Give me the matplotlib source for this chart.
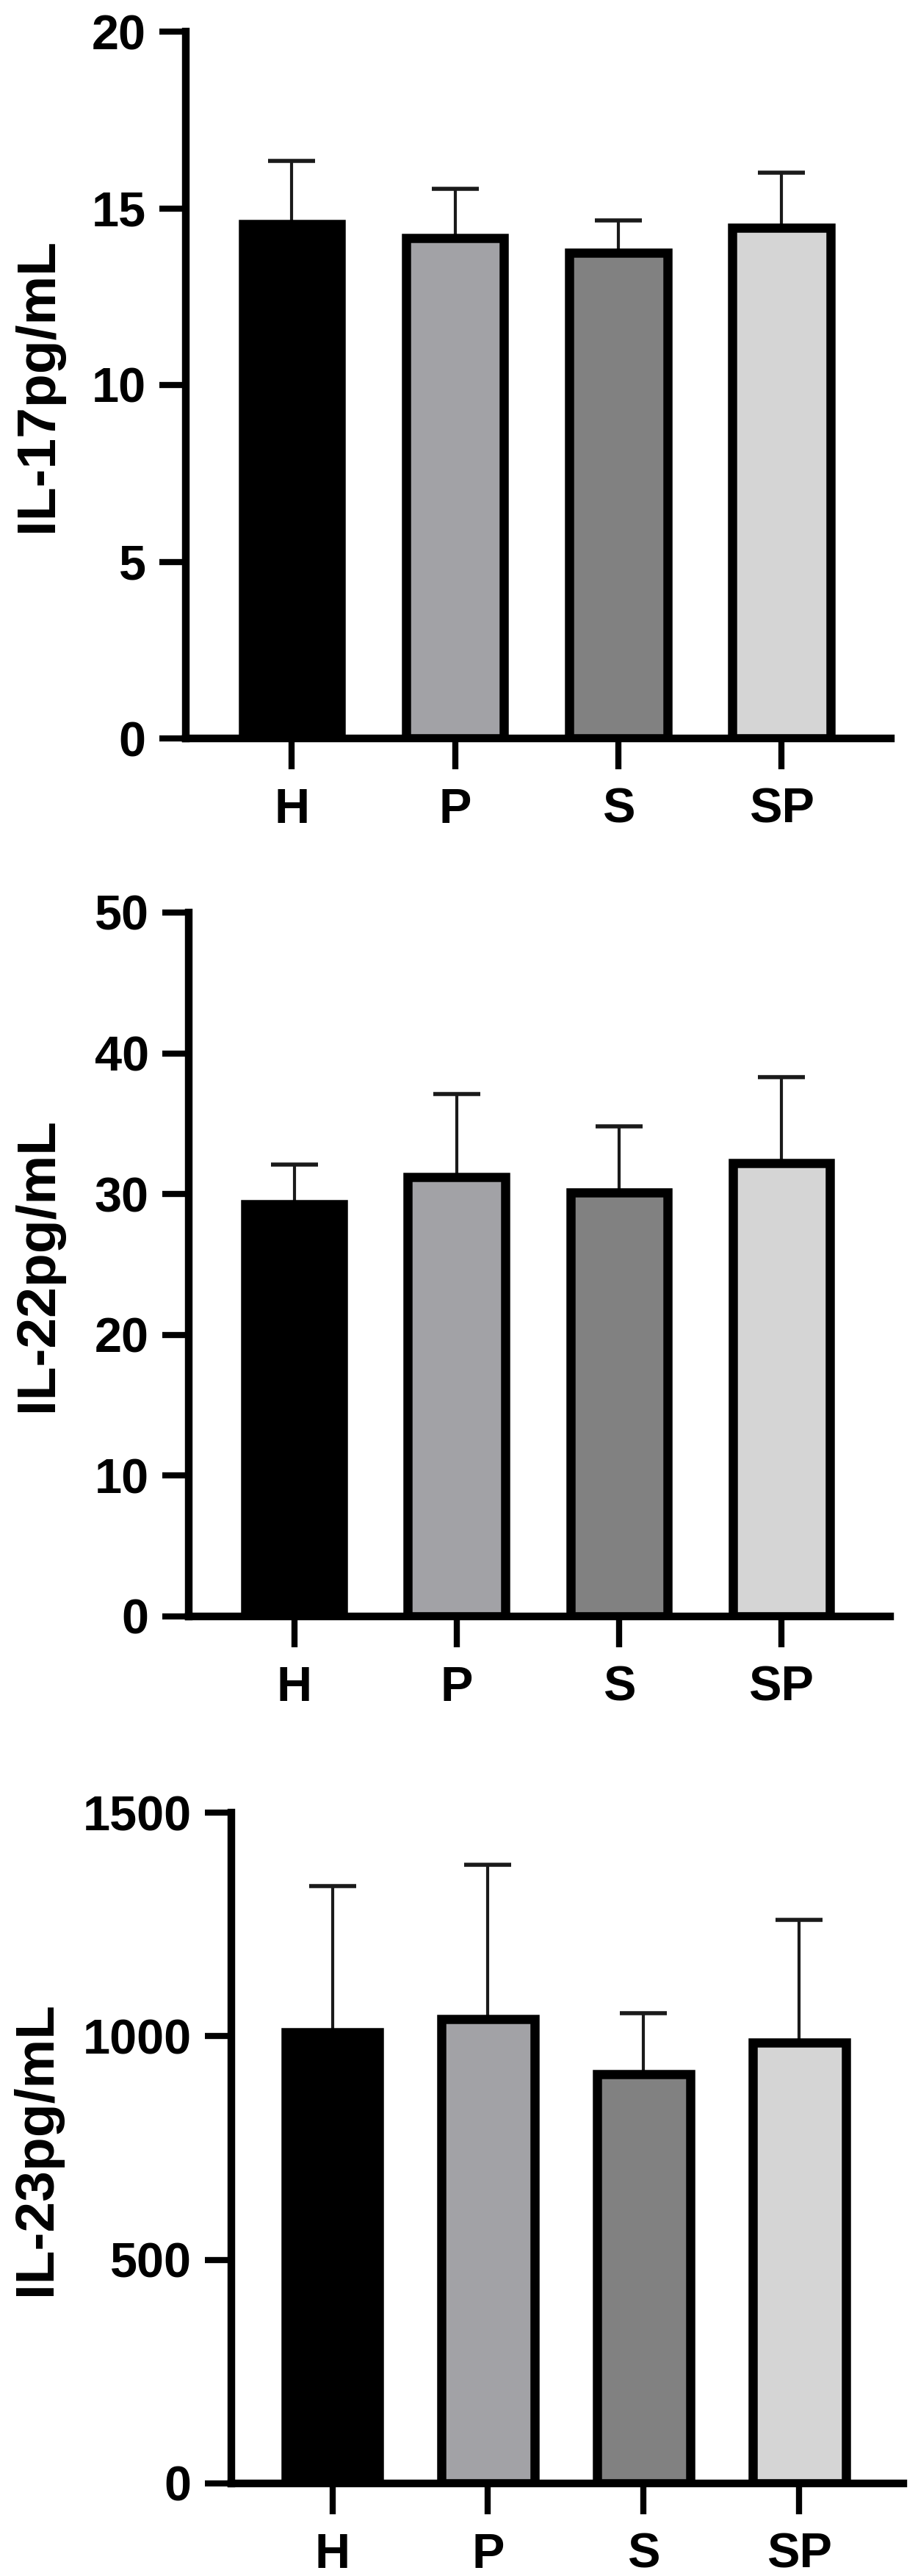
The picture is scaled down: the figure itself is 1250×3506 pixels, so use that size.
import numpy as np
import matplotlib
matplotlib.use('agg')
import matplotlib.pyplot as plt

plt.rcParams['font.family'] = ['Liberation Sans', 'DejaVu Sans']
plt.rcParams['font.weight'] = 'bold'

groups = ['H', 'P', 'S', 'SP']
colors = ['#000000', '#a2a2a6', '#818181', '#d5d5d5']

il17_mean = [14.55, 14.15, 13.75, 14.45]
il17_top = [16.35, 15.55, 14.65, 16.0]

il22_mean = [29.3, 31.2, 30.1, 32.2]
il22_top = [32.1, 37.1, 34.8, 38.3]

il23_mean = [1008, 1038, 915, 985]
il23_top = [1336, 1384, 1052, 1260]

panels = [
    ('IL-17pg/mL', il17_mean, il17_top, 20, [0, 5, 10, 15, 20], (253, 1213, 43, 1005), 52),
    ('IL-22pg/mL', il22_mean, il22_top, 50, [0, 10, 20, 30, 40, 50], (257, 1212, 1242, 2200), 52),
    ('IL-23pg/mL', il23_mean, il23_top, 1500, [0, 500, 1000, 1500], (315, 1230, 2467, 3380), 50),
]

W, H = 1250, 3506
fig = plt.figure(figsize=(W / 100, H / 100), dpi=100)

for label, mean, top, ymax, yticks, (l, r, t, b), lab_x in panels:
    ax = fig.add_axes([l / W, 1 - b / H, (r - l) / W, (b - t) / H])
    x = np.arange(len(groups))
    mean = np.array(mean)
    top = np.array(top)
    err = np.vstack([np.zeros_like(mean), top - mean])
    ax.errorbar(x, mean, yerr=err, fmt='none', ecolor='#1a1a1a',
                elinewidth=3, capsize=23, capthick=4, zorder=1)
    ax.bar(x, mean, width=0.6, color=colors, edgecolor='black',
           linewidth=9, zorder=2)
    ax.set_xlim(-0.65, 3.67)
    ax.set_ylim(0, ymax)
    ax.set_yticks(yticks)
    ax.set_xticks(x)
    ax.set_xticklabels(groups)
    for s in ['top', 'right']:
        ax.spines[s].set_visible(False)
    for s in ['left', 'bottom']:
        ax.spines[s].set_linewidth(7.5)
    ax.tick_params(axis='y', length=26, width=6, pad=13, labelsize=48)
    ax.tick_params(axis='x', length=30, width=6, pad=18, labelsize=48)
    ax.set_ylabel(label, fontsize=54, fontweight='bold', va='center')
    ax.yaxis.set_label_coords((lab_x - l) / (r - l), 0.5)

fig.savefig('out.png', dpi=100)
